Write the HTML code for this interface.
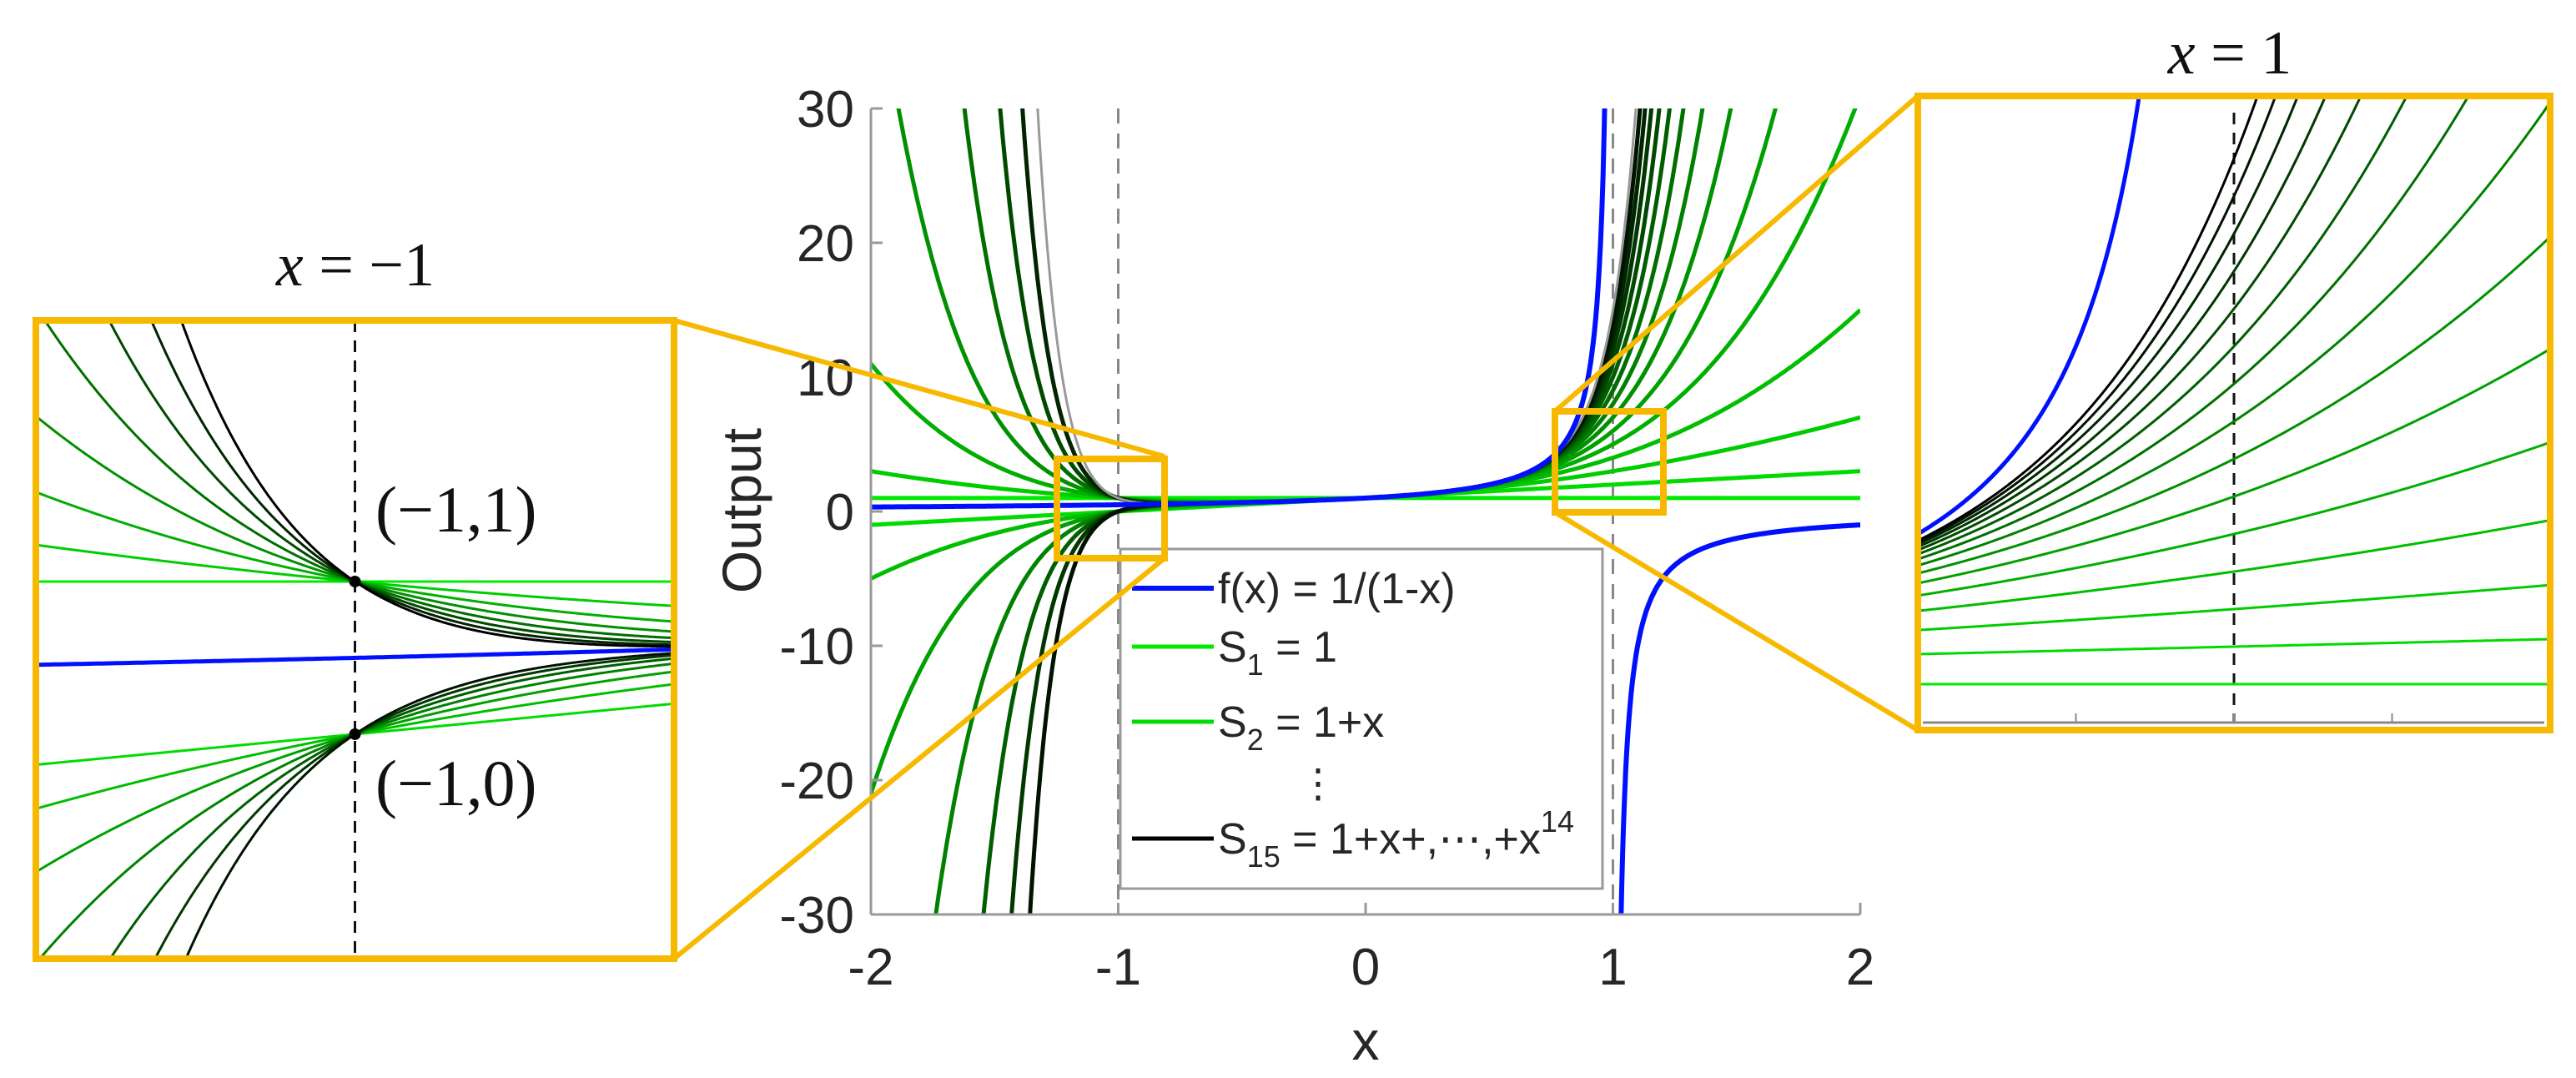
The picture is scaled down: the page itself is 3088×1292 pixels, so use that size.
<!DOCTYPE html>
<html><head><meta charset="utf-8"><style>
html,body{margin:0;padding:0;background:#fff;width:3088px;height:1292px;overflow:hidden;}
svg{display:block;}
text{font-family:"Liberation Sans",sans-serif;fill:#262626;}
.serif{font-family:"Liberation Serif",serif;fill:#111;}
</style></head><body>
<svg id="fig" width="3088" height="1292" viewBox="0 0 3088 1292" xmlns="http://www.w3.org/2000/svg">
<defs>
<clipPath id="clipMain"><rect x="1044" y="130" width="1186" height="966"/></clipPath>
<clipPath id="clipL"><rect x="43" y="384" width="765" height="765"/></clipPath>
<clipPath id="clipR"><rect x="2299" y="115" width="758" height="760"/></clipPath>
</defs>
<g id="main"></g>
<g id="insetL"></g>
<g id="insetR"></g>
<g id="overlay"></g>
</svg>
<script>
// ---- data ----
const seriesOrders = [1,2,3,4,5,6,7,8,9,10,11,12,13,14,15];
const coefficients = [1,1,1,1,1,1,1,1,1,1,1,1,1,1,1];
const xTicks = [-2,-1,0,1,2];
const yTicks = [-30,-20,-10,0,10,20,30];
const xTickLabels = ["-2","-1","0","1","2"];
const yTickLabels = ["-30","-20","-10","0","10","20","30"];
const markedPoints = [[-1,1],[-1,0]];
const markedLabels = ["(\u22121,1)","(\u22121,0)"];
const insetRTicks = [0.8,0.9,1.0,1.1,1.2];

const NS="http://www.w3.org/2000/svg";
function mk(tag,attrs,parent){const e=document.createElementNS(NS,tag);for(const k in attrs)e.setAttribute(k,attrs[k]);parent.appendChild(e);return e;}
function S(n,x){let s=0,p=1;for(let k=0;k<n;k++){s+=coefficients[k]*p;p*=x;}return s;}
function f(x){return 1/(1-x);}
function colorFor(n){
  const t=(n-1)/14;
  let g;
  if(t<0.5){g=Math.round(235-(235-130)*(t/0.5));}
  else{g=Math.round(130-130*((t-0.5)/0.5));}
  return "rgb(0,"+g+",0)";
}
function axisFns(x0,x1,px0,px1,y0,y1,py0,py1){
  return {X:v=>px0+(v-x0)/(x1-x0)*(px1-px0),Y:v=>py0+(v-y0)/(y1-y0)*(py1-py0)};
}
function pathFor(fn,xa,xb,ax,ylim){
  let d="",pen=false;const N=600;
  for(let i=0;i<=N;i++){
    const x=xa+(xb-xa)*i/N;let y=fn(x);
    if(!isFinite(y)||Math.abs(y)>ylim){pen=false;if(isFinite(y)){y=Math.max(-ylim,Math.min(ylim,y));d+=(d?" M":"M")+ax.X(x).toFixed(1)+","+ax.Y(y).toFixed(1);pen=false;}continue;}
    d+=(pen?" L":(d?" M":"M"))+ax.X(x).toFixed(1)+","+ax.Y(y).toFixed(1);pen=true;
  }
  return d;
}

// ---- main plot ----
const gM=document.getElementById('main');
const axM=axisFns(-2,2,1044,2230,-30,30,1096,130);
const cM=mk('g',{'clip-path':'url(#clipMain)'},gM);
[-1,1].forEach(v=>{const l=mk('line',{x1:axM.X(v),x2:axM.X(v),y1:130,y2:1096,stroke:'#888','stroke-width':3,'stroke-dasharray':'18,12'},cM);
});
seriesOrders.forEach((n,i)=>{
  const p=mk('path',{d:pathFor(x=>S(n,x),-2,2,axM,60),fill:'none',stroke:(n===15?'#999':colorFor(n)),'stroke-width':(n===15?3:5)},cM);
  
});
const fb=mk('path',{d:pathFor(f,-2,0.995,axM,60)+" "+pathFor(f,1.005,2,axM,60),fill:'none',stroke:'#0010ff','stroke-width':6},cM);

// axes
mk('line',{x1:1044,x2:1044,y1:130,y2:1096,stroke:'#999','stroke-width':3},gM);
mk('line',{x1:1044,x2:2230,y1:1096,y2:1096,stroke:'#999','stroke-width':3},gM);
yTicks.forEach((v,i)=>{
  mk('line',{x1:1044,x2:1058,y1:axM.Y(v),y2:axM.Y(v),stroke:'#999','stroke-width':3},gM);
  const t=mk('text',{x:1024,y:axM.Y(v)+22,'text-anchor':'end','font-size':62},gM);t.textContent=yTickLabels[i];
  
});
xTicks.forEach((v,i)=>{
  mk('line',{x1:axM.X(v),x2:axM.X(v),y1:1096,y2:1082,stroke:'#999','stroke-width':3},gM);
  const t=mk('text',{x:axM.X(v),y:1180,'text-anchor':'middle','font-size':62},gM);t.textContent=xTickLabels[i];
  
});
const yt=mk('text',{x:0,y:0,'text-anchor':'middle','font-size':66,transform:'translate(912,612) rotate(-90)'},gM);yt.textContent='Output';

const xt=mk('text',{x:1637,y:1270,'text-anchor':'middle','font-size':66},gM);xt.textContent='x';

// legend
const lg=mk('g',{},gM);
mk('rect',{x:1343,y:658,width:578,height:407,fill:'#fff',stroke:'#999','stroke-width':3},lg);
const legRows=[[705,'#0010ff',6],[775,colorFor(1),5],[865,colorFor(2),5],[1005,'#000',5]];
legRows.forEach(r=>mk('line',{x1:1357,x2:1455,y1:r[0],y2:r[0],stroke:r[1],'stroke-width':r[2]},lg));
function legText(y,html){const t=mk('text',{x:1460,y:y+18,'font-size':52},lg);t.innerHTML=html;return t;}
legText(705,'f(x) = 1/(1-x)');
legText(775,'S<tspan font-size="36" dy="16">1</tspan><tspan dy="-16"> = 1</tspan>');
legText(865,'S<tspan font-size="36" dy="16">2</tspan><tspan dy="-16"> = 1+x</tspan>');
const dots=mk('text',{x:1580,y:955,'text-anchor':'middle','font-size':48},lg);dots.textContent='\u22EE';
legText(1005,'S<tspan font-size="36" dy="16">15</tspan><tspan dy="-16"> = 1+x+,\u22EF,+x</tspan><tspan font-size="36" dy="-26">14</tspan>');

// ---- left inset ----
const gL=document.getElementById('insetL');
const axL=axisFns(-1.2,-0.8,43,808,-1.47,2.71,1149,384);
mk('rect',{x:43,y:384,width:765,height:765,fill:'#fff'},gL);
const cL=mk('g',{'clip-path':'url(#clipL)'},gL);
mk('line',{x1:axL.X(-1),x2:axL.X(-1),y1:384,y2:1149,stroke:'#111','stroke-width':3,'stroke-dasharray':'14,10'},cL);
seriesOrders.forEach(n=>{
  const p=mk('path',{d:pathFor(x=>S(n,x),-1.2,-0.8,axL,20),fill:'none',stroke:colorFor(n),'stroke-width':3},cL);
  
});
mk('path',{d:pathFor(f,-1.2,-0.8,axL,20),fill:'none',stroke:'#0010ff','stroke-width':5},cL);
markedPoints.forEach((pt,i)=>{
  mk('circle',{cx:axL.X(pt[0]),cy:axL.Y(pt[1]),r:7,fill:'#000'},gL);
  const t=mk('text',{x:450,y:axL.Y(pt[1])+(i===0?-60:85),'font-size':78,class:'serif'},gL);t.textContent=markedLabels[i];
  
});
mk('rect',{x:43,y:384,width:765,height:765,fill:'none',stroke:'#f7b900','stroke-width':8},gL);
const tL=mk('text',{x:426,y:342,'text-anchor':'middle','font-size':74,class:'serif'},gL);
tL.innerHTML='<tspan font-style="italic">x</tspan> = \u22121';


// ---- right inset ----
const gR=document.getElementById('insetR');
const axR=axisFns(0.8,1.2,2299,3057,0,16.67,865,115);
mk('rect',{x:2299,y:115,width:758,height:760,fill:'#fff'},gR);
const cR=mk('g',{'clip-path':'url(#clipR)'},gR);
mk('line',{x1:axR.X(1),x2:axR.X(1),y1:135,y2:865,stroke:'#111','stroke-width':3,'stroke-dasharray':'14,10'},cR);
seriesOrders.forEach(n=>{
  const p=mk('path',{d:pathFor(x=>S(n,x),0.8,1.2,axR,40),fill:'none',stroke:colorFor(n),'stroke-width':3},cR);
  
});
mk('path',{d:pathFor(f,0.8,0.99,axR,40),fill:'none',stroke:'#0010ff','stroke-width':5},cR);
mk('line',{x1:2305,x2:3050,y1:866,y2:866,stroke:'#888','stroke-width':3},gR);
insetRTicks.forEach(v=>mk('line',{x1:axR.X(v),x2:axR.X(v),y1:866,y2:855,stroke:'#888','stroke-width':2},gR));
mk('rect',{x:2299,y:115,width:758,height:760,fill:'none',stroke:'#f7b900','stroke-width':8},gR);
const tR=mk('text',{x:2673,y:88,'text-anchor':'middle','font-size':74,class:'serif'},gR);
tR.innerHTML='<tspan font-style="italic">x</tspan> = 1';


// ---- zoom boxes and connectors ----
const gO=document.getElementById('overlay');
mk('rect',{x:1267,y:550,width:129,height:119,fill:'none',stroke:'#f7b900','stroke-width':8},gO);
mk('rect',{x:1864,y:493,width:130,height:121,fill:'none',stroke:'#f7b900','stroke-width':8},gO);
[[808,384,1396,547],[808,1149,1396,669],[1864,493,2299,115],[1864,614,2299,875]].forEach(s=>{
  const l=mk('line',{x1:s[0],y1:s[1],x2:s[2],y2:s[3],stroke:'#f7b900','stroke-width':6},gO);
  
});
</script>
</body></html>
